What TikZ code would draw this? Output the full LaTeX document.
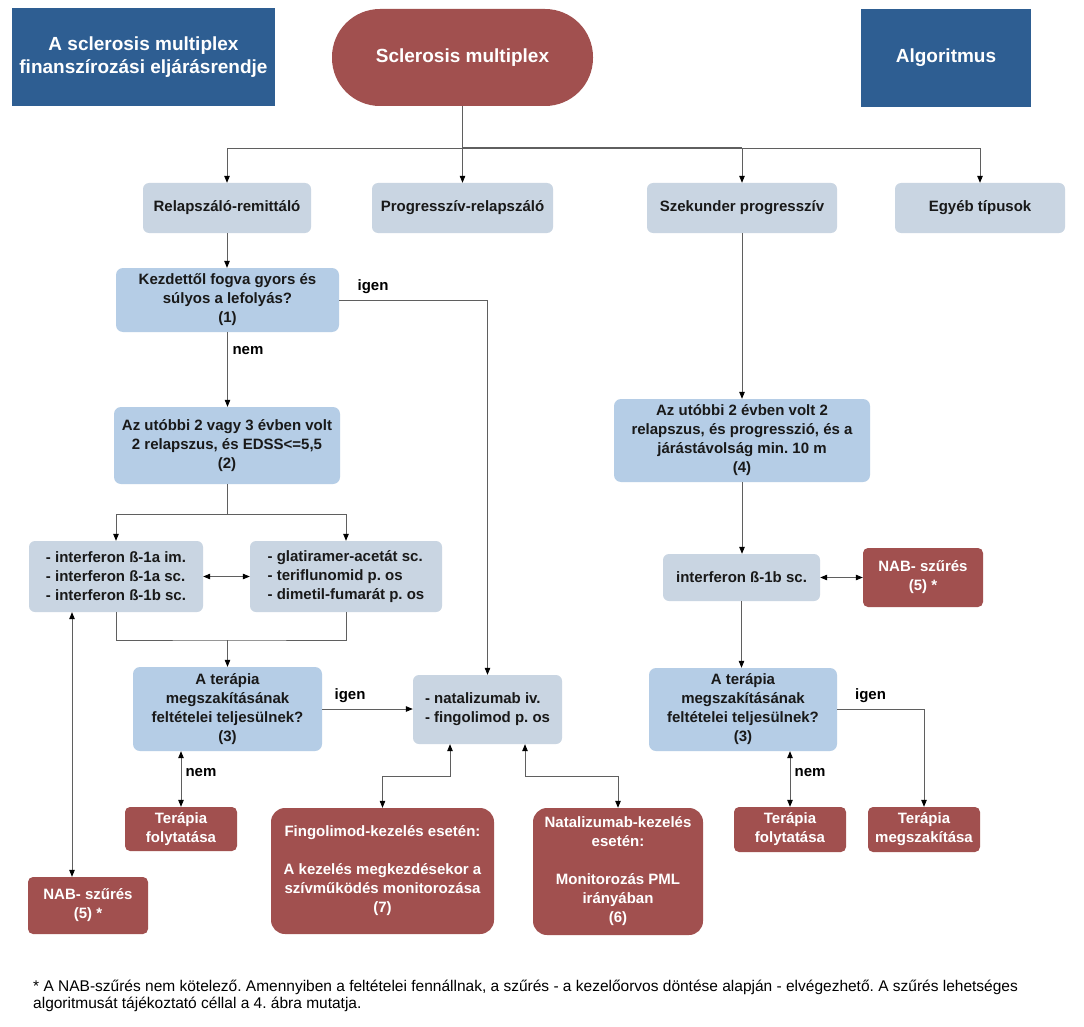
\documentclass[tikz,border=0pt]{standalone}
\usepackage{fontspec}
\setmainfont{Liberation Sans}
\usetikzlibrary{arrows.meta,calc}
\definecolor{hdrblue}{RGB}{46,94,146}
\definecolor{smred}{RGB}{161,80,79}
\definecolor{qblue}{RGB}{181,205,230}
\definecolor{gblue}{RGB}{201,213,226}
\definecolor{lgray}{RGB}{95,95,95}
\tikzset{
  box/.style={inner sep=0pt, align=center, font=\fontsize{15}{19}\selectfont\bfseries},
  qbox/.style={box, fill=qblue, rounded corners=7pt, text=black!90},
  gbox/.style={box, fill=gblue, rounded corners=6pt, text=black!90},
  rbox/.style={box, fill=smred, rounded corners=5pt, text=white},
  bigr/.style={rbox, rounded corners=14pt},
  hdr/.style={box, fill=hdrblue, text=white, font=\fontsize{19}{23}\selectfont\bfseries},
  conn/.style={draw=lgray, line width=0.8pt},
  arr/.style={conn, -{Triangle[length=7pt,width=5.5pt,color=black]}},
  darr/.style={conn, {Triangle[length=7pt,width=5.5pt,color=black]}-{Triangle[length=7pt,width=5.5pt,color=black]}},
  lbl/.style={inner sep=0pt, font=\fontsize{15}{19}\selectfont\bfseries}
}
\frenchspacing
\begin{document}
\begin{tikzpicture}[x=1pt,y=-1pt]
\fill[white] (0,0) rectangle (1084,1027);
\useasboundingbox (0,0) rectangle (1084,1027);

% headers
\node[hdr, minimum width=263pt, minimum height=98pt] (hl) at (143.5,57) {A sclerosis multiplex\\finanszírozási eljárásrendje};
\node[hdr, fill=smred, rounded corners=48pt, minimum width=261pt, minimum height=97pt] (sm) at (462.5,57.5) {Sclerosis multiplex};
\node[hdr, minimum width=170pt, minimum height=98pt] (hr) at (946,58) {Algoritmus};

% types
\node[gbox, minimum width=168pt, minimum height=50pt] (rr) at (227,208) {Relapszáló-remittáló};
\node[gbox, minimum width=181pt, minimum height=50pt] (pr) at (462.5,208) {Progresszív-relapszáló};
\node[gbox, minimum width=190pt, minimum height=50pt] (sp) at (742,208) {Szekunder progresszív};
\node[gbox, minimum width=170pt, minimum height=50pt] (eg) at (980,208) {Egyéb típusok};

% left branch
\node[qbox, minimum width=223pt, minimum height=64pt] (q1) at (227.5,300) {Kezdettől fogva gyors és\\súlyos a lefolyás?\\(1)};
\node[qbox, minimum width=226pt, minimum height=77pt] (q2) at (227,445.5) {Az utóbbi 2 vagy 3 évben volt\\2 relapszus, és EDSS<=5,5\\(2)};
\node[gbox, align=left, minimum width=174pt, minimum height=71pt] (dA) at (116,576.5) {- interferon ß-1a im.\\- interferon ß-1a sc.\\- interferon ß-1b sc.};
\node[gbox, align=left, minimum width=192pt, minimum height=71pt] (dB) at (346,576.5) {- glatiramer-acetát sc.\\- teriflunomid p. os\\- dimetil-fumarát p. os};
\node[qbox, minimum width=189pt, minimum height=84pt] (q3l) at (227.5,709) {A terápia\\megszakításának\\feltételei teljesülnek?\\(3)};
\node[gbox, align=left, minimum width=149pt, minimum height=69pt] (nat) at (487.5,709.5) {- natalizumab iv.\\- fingolimod p. os};
\node[rbox, minimum width=112pt, minimum height=44pt] (tfl) at (181,829) {Terápia\\folytatása};
\node[rbox, minimum width=120pt, minimum height=57pt] (nabl) at (88,905.5) {NAB- szűrés\\(5) *};
\node[bigr, minimum width=223pt, minimum height=126pt] (fing) at (382.5,871) {Fingolimod-kezelés esetén:\\[19pt]A kezelés megkezdésekor a\\szívműködés monitorozása\\(7)};
\node[bigr, minimum width=170pt, minimum height=127pt] (nz) at (618,871.5) {Natalizumab-kezelés\\esetén:\\[19pt]Monitorozás PML\\irányában\\(6)};

% right branch
\node[qbox, minimum width=256pt, minimum height=83pt] (q4) at (742,440.5) {Az utóbbi 2 évben volt 2\\relapszus, és progresszió, és a\\járástávolság min. 10 m\\(4)};
\node[gbox, minimum width=157pt, minimum height=47pt] (ifn) at (741.5,577.5) {interferon ß-1b sc.};
\node[rbox, minimum width=120pt, minimum height=59pt] (nabr) at (923,577.5) {NAB- szűrés\\(5) *};
\node[qbox, minimum width=188pt, minimum height=83pt] (q3r) at (743,709.5) {A terápia\\megszakításának\\feltételei teljesülnek?\\(3)};
\node[rbox, minimum width=112pt, minimum height=45pt] (tfr) at (790,829.5) {Terápia\\folytatása};
\node[rbox, minimum width=112pt, minimum height=45pt] (tm) at (924,829.5) {Terápia\\megszakítása};

% footnote
\node[anchor=north west, inner sep=0pt, align=left, font=\fontsize{15.5}{17}\selectfont] (fn) at (33,980) {* A NAB-szűrés nem kötelező. Amennyiben a feltételei fennállnak, a szűrés - a kezelőorvos döntése alapján - elvégezhető. A szűrés lehetséges\\algoritmusát tájékoztató céllal a 4. ábra mutatja.};

% connectors
\coordinate (bus) at (462.5,148);
\draw[conn] (sm.south) -- (bus);
\draw[arr] (bus) -| (rr.north);
\draw[arr] (bus) -- (pr.north);
\draw[arr] (bus) -| (sp.north);
\draw[arr] (bus) -| (eg.north);
\draw[conn, line width=1.6pt] (bus) -- (bus -| sp.north);

\draw[arr] (rr.south) -- (rr.south |- q1.north);
\draw[arr] (q1.east) -| (nat.north);
\node[lbl] (igen1) at (373,287) {igen};
\draw[arr] (q1.south) -- (q1.south |- q2.north);
\node[lbl] (nem1) at (248,351) {nem};
\coordinate (split) at (227,514);
\draw[conn] (q2.south) -- (split);
\draw[arr] (split) -| (dA.north);
\draw[arr] (split) -| (dB.north);
\draw[darr] (dA.east) -- (dB.west);
\coordinate (merge) at (227.5,640);
\draw[conn] (dA.south) |- (merge) -| (dB.south);
\draw[arr] (merge) -- (q3l.north);
\draw[arr] (q3l.east) -- (q3l.east -| nat.west);
\node[lbl] (igen2) at (350,695.5) {igen};
\draw[darr] (tfl.north) -- (tfl.north |- q3l.south);
\node[lbl] (nem2) at (201,773) {nem};
\coordinate (lx) at (72,0);
\draw[darr] (dA.south -| lx) -- (nabl.north -| lx);
\draw[darr] ($(nat.south)+(-37.5,0)$) |- ($(fing.north)+(0,-31)$) -- (fing.north);
\draw[darr] ($(nat.south)+(37.5,0)$) |- ($(nz.north)+(0,-31)$) -- (nz.north);

\draw[arr] (sp.south) -- (sp.south |- q4.north);
\draw[arr] (q4.south) -- (q4.south |- ifn.north);
\draw[darr] (ifn.east) -- (ifn.east -| nabr.west);
\draw[arr] (ifn.south) -- (ifn.south |- q3r.north);
\draw[arr] (q3r.east) -| (tm.north);
\node[lbl] (igen3) at (870.5,695.5) {igen};
\draw[darr] (tfr.north) -- (tfr.north |- q3r.south);
\node[lbl] (nem3) at (810,773) {nem};
\end{tikzpicture}
\end{document}
